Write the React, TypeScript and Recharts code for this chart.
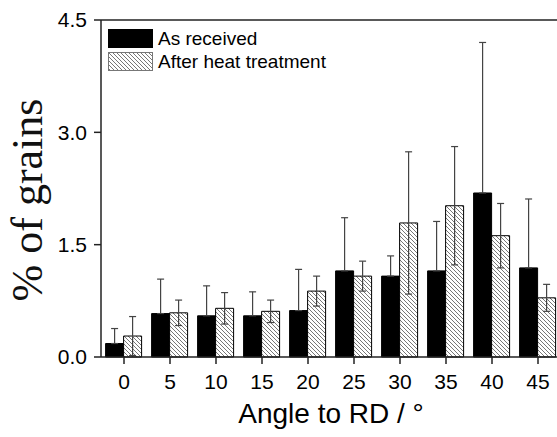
import React from 'react';
import { BarChart, Bar, XAxis, YAxis, ErrorBar, Legend, ReferenceLine } from 'recharts';

const angles = ['0', '5', '10', '15', '20', '25', '30', '35', '40', '45'];
const asReceived = [0.18, 0.58, 0.55, 0.55, 0.62, 1.15, 1.08, 1.15, 2.19, 1.19];
const asReceivedErr = [0.2, 0.46, 0.4, 0.32, 0.55, 0.71, 0.27, 0.66, 2.01, 0.92];
const afterHeat = [0.28, 0.59, 0.65, 0.61, 0.88, 1.08, 1.79, 2.02, 1.62, 0.79];
const afterHeatErr = [0.26, 0.17, 0.21, 0.15, 0.2, 0.2, 0.95, 0.79, 0.43, 0.18];
const yTicks = [0, 1.5, 3, 4.5];

// lower half of the black bars' error bars is hidden in the bar anyway
const data = angles.map((angle, i) => ({
    angle,
    asReceived: asReceived[i],
    asReceivedErr: [0, asReceivedErr[i]],
    afterHeat: afterHeat[i],
    afterHeatErr: afterHeatErr[i],
}));

const sans = '"Liberation Sans", Arial, sans-serif';

const HatchSwatch = () => (
    <svg width={45} height={19} style={{ display: 'block' }}>
        <defs>
            <pattern id="hatchLegend" patternUnits="userSpaceOnUse" width={4} height={4}>
                <path d="M-1,-1 L5,5 M-1,3 L1,5 M3,-1 L5,1" stroke="#777" strokeWidth={1} />
            </pattern>
        </defs>
        <rect x={0.5} y={0.5} width={44} height={18} fill="url(#hatchLegend)" stroke="#777" />
    </svg>
);

const renderLegend = () => (
    <div style={{ fontFamily: sans, fontSize: 19, color: '#000' }}>
        <div style={{ display: 'flex', alignItems: 'center', height: 19 }}>
            <div style={{ width: 45, height: 19, background: '#000' }} />
            <span style={{ marginLeft: 5, lineHeight: '19px' }}>As received</span>
        </div>
        <div style={{ display: 'flex', alignItems: 'center', height: 19, marginTop: 4 }}>
            <HatchSwatch />
            <span style={{ marginLeft: 5, lineHeight: '19px' }}>After heat treatment</span>
        </div>
    </div>
);

const renderYLabel = () => (
    <text
        x={42}
        y={200}
        transform="rotate(-90, 42, 200)"
        textAnchor="middle"
        fontFamily='"Liberation Serif", "Times New Roman", serif'
        fontSize={44}
        fill="#111"
    >
        % of grains
    </text>
);

const renderXLabel = (props: any) => {
    const vb = props.viewBox || {};
    return (
        <text
            x={vb.x + vb.width / 2}
            y={423}
            textAnchor="middle"
            fontFamily={sans}
            fontSize={28}
            fill="#000"
        >
            Angle to RD / °
        </text>
    );
};

export default function App() {
    return (
        <div style={{ position: 'absolute', left: 0, top: 0, width: 557, height: 437, overflow: 'hidden', background: '#fff' }}>
            <BarChart
                width={600}
                height={437}
                data={data}
                margin={{ top: 20, right: 39, bottom: 0, left: 0 }}
                barCategoryGap="10%"
                barGap={0}
            >
                <defs>
                    <pattern id="hatch" patternUnits="userSpaceOnUse" width={4} height={4}>
                        <rect width={4} height={4} fill="#fff" />
                        <path d="M-1,-1 L5,5 M-1,3 L1,5 M3,-1 L5,1" stroke="#777" strokeWidth={1} />
                    </pattern>
                </defs>
                <XAxis
                    dataKey="angle"
                    height={80}
                    tickSize={7}
                    tickMargin={10}
                    interval={0}
                    axisLine={{ stroke: '#222', strokeWidth: 1.5 }}
                    tickLine={{ stroke: '#222', strokeWidth: 1.5 }}
                    tick={{ fill: '#000', fontSize: 21, fontFamily: sans }}
                    label={renderXLabel}
                />
                <YAxis
                    width={101}
                    domain={[0, 4.5]}
                    ticks={yTicks}
                    tickFormatter={(v: number) => v.toFixed(1)}
                    tickSize={7}
                    tickMargin={7}
                    axisLine={{ stroke: '#222', strokeWidth: 1.5 }}
                    tickLine={{ stroke: '#222', strokeWidth: 1.5 }}
                    tick={{ fill: '#000', fontSize: 21, fontFamily: sans }}
                    label={renderYLabel}
                />
                <ReferenceLine y={4.5} stroke="#222" strokeWidth={1.5} />
                <Legend
                    layout="vertical"
                    align="center"
                    verticalAlign="middle"
                    content={renderLegend}
                    wrapperStyle={{ position: 'absolute', left: 108, top: 29, width: 260, height: 45 }}
                />
                <Bar dataKey="asReceived" fill="#000" stroke="#000" strokeWidth={1} isAnimationActive={false}>
                    <ErrorBar dataKey="asReceivedErr" width={3.5} stroke="#444" strokeWidth={1.2} />
                </Bar>
                <Bar dataKey="afterHeat" fill="url(#hatch)" stroke="#000" strokeWidth={1} isAnimationActive={false}>
                    <ErrorBar dataKey="afterHeatErr" width={3.5} stroke="#444" strokeWidth={1.2} />
                </Bar>
            </BarChart>
        </div>
    );
}
